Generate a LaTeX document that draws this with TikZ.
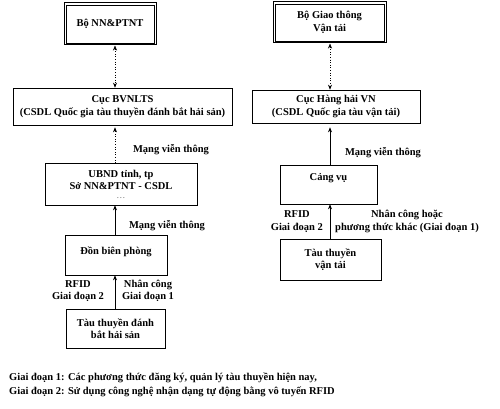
\documentclass[tikz,border=0pt]{standalone}
\usepackage{fontspec}
\setmainfont{Liberation Serif}
\usetikzlibrary{arrows.meta,calc}
\newcommand{\upby}[2]{\raisebox{#1}[\height][\depth]{#2}}
\begin{document}
\begin{tikzpicture}[x=1pt,y=-1pt,
  font=\bfseries\fontsize{10.5}{12.5}\selectfont,
  box/.style={draw, line width=0.6pt, rectangle, inner sep=0pt, align=center},
  conn/.style={line width=0.6pt, -{Stealth[length=5pt,width=4pt]}},
  bconn/.style={line width=0.6pt, {Stealth[length=5pt,width=4pt]}-{Stealth[length=5pt,width=4pt]}},
  lbl/.style={inner sep=0pt, align=center}]
\useasboundingbox (0,0) rectangle (500,409);
% left column
\node[box, line width=1pt, minimum width=92pt, minimum height=42pt] (top1) at (110,24) {Bộ NN\&PTNT};
\draw[line width=0.6pt] ($(top1.south west)+(2.6,-2.6)$) rectangle ($(top1.north east)+(-2.6,2.6)$);
\node[box, minimum width=219pt, minimum height=37pt] (cuc1) at (122.5,106.5) {Cục BVNLTS\\(CSDL Quốc gia tàu thuyền đánh bắt hải sản)};
\node[box, minimum width=152pt, minimum height=42pt] (ubnd) at (121,184) {UBND tỉnh, tp\\Sở NN\&PTNT - CSDL\\[-4pt]{\tiny . . .}};
\node[box, minimum width=102pt, minimum height=40pt] (don) at (116,255) {\upby{3pt}{Đồn biên phòng}};
\node[box, minimum width=99pt, minimum height=39pt] (tau1) at (115.5,328.5) {Tàu thuyền đánh\\bắt hải sản};
% right column
\node[box, line width=1pt, minimum width=113pt, minimum height=41pt] (top2) at (329.5,22.5) {Bộ Giao thông\\Vận tải};
\draw[line width=0.6pt] ($(top2.south west)+(2.6,-2.6)$) rectangle ($(top2.north east)+(-2.6,2.6)$);
\node[box, minimum width=168pt, minimum height=33pt] (cuc2) at (336,106.5) {Cục Hàng hải VN\\(CSDL Quốc gia tàu vận tải)};
\node[box, minimum width=97pt, minimum height=39pt] (cang) at (328.5,184.5) {\upby{6pt}{Cảng vụ}};
\node[box, minimum width=101pt, minimum height=41pt] (tau2) at (330.5,259.5) {Tàu thuyền\\vận tải};
% connectors left
\coordinate (lx) at (115,0);
\draw[bconn, dotted] (top1.south -| lx) -- (cuc1.north -| lx);
\draw[conn, dotted, shorten >=2pt] (ubnd.north -| lx) -- (cuc1.south -| lx);
\draw[conn] (don.north -| lx) -- (ubnd.south -| lx);
\draw[conn] (tau1.north -| lx) -- (don.south -| lx);
% connectors right
\coordinate (rx) at (330,0);
\draw[bconn, dotted] (top2.south -| rx) -- (cuc2.north -| rx);
\draw[conn, shorten >=4pt] (cang.north -| rx) -- (cuc2.south -| rx);
\draw[conn] (tau2.north -| rx) -- (cang.south -| rx);
% labels
\node[lbl] (m1) at (171,150) {Mạng viễn thông};
\node[lbl] (m2) at (167,226) {Mạng viễn thông};
\node[lbl] (m3) at (383,153) {Mạng viễn thông};
\node[lbl] (r1) at (78,291) {RFID\\Giai  đoạn 2};
\node[lbl] (n1) at (148,291) {Nhân công\\Giai  đoạn 1};
\node[lbl, anchor=east] (r2) at (323,221.5) {RFID\\Giai  đoạn 2};
\node[lbl, anchor=west] (n2) at (335,221.5) {Nhân công hoặc\\phương thức khác (Giai  đoạn 1)};
% footnotes
\node[lbl, anchor=west] (f1) at (9,378) {Giai  đoạn 1: Các phương thức đăng ký, quản lý tàu thuyền hiện nay,};
\node[lbl, anchor=west] (f2) at (9,392) {Giai  đoạn 2: Sử dụng công nghệ nhận dạng tự động bằng vô tuyến RFID};
\end{tikzpicture}
\end{document}
